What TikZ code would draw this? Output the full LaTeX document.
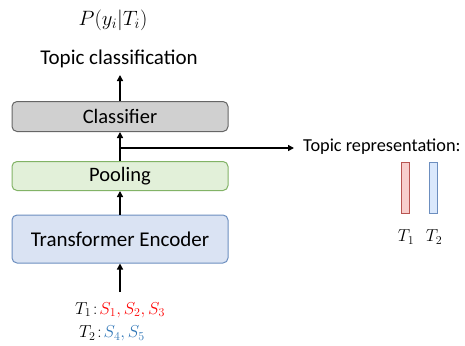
\documentclass[tikz,border=0pt]{standalone}
\usepackage{fontspec}
\setmainfont{Carlito}
\usetikzlibrary{arrows.meta}
\definecolor{clsfill}{HTML}{D0D0D0}
\definecolor{clsdraw}{HTML}{666666}
\definecolor{poolfill}{HTML}{E2F0D9}
\definecolor{pooldraw}{HTML}{82B366}
\definecolor{encfill}{HTML}{DAE3F3}
\definecolor{encdraw}{HTML}{6C8EBF}
\definecolor{redfill}{HTML}{F8CECC}
\definecolor{reddraw}{HTML}{B85450}
\definecolor{bluefill}{HTML}{DAE8FC}
\definecolor{bluedraw}{HTML}{6C8EBF}
\definecolor{sred}{HTML}{FF0000}
\definecolor{sblue}{HTML}{2E75B6}
\tikzset{
  block/.style={draw, rounded corners=5pt, line width=1pt, minimum width=216pt, inner sep=0pt},
  arr/.style={line width=1.8pt, -{Triangle[length=6pt,width=6pt]}},
  bar/.style={draw, line width=0.8pt, minimum width=8pt, minimum height=51pt, inner sep=0pt},
  mathlbl/.style={inner sep=0pt, font=\fontsize{18.5}{21}\selectfont},
}
\begin{document}
\begin{tikzpicture}[x=1pt,y=-1pt]
\useasboundingbox (0,0) rectangle (465,345);
\node[inner sep=0pt] (prob) at (113,20) {\fontsize{22}{25}\selectfont $P(y_i|T_i)$};
\node[inner sep=0pt] (topcls) at (119,59) {\fontsize{21}{24}\selectfont Topic classification};
\node[block, fill=clsfill, draw=clsdraw, minimum height=30pt] (cls) at (120,116.5) {\fontsize{20.5}{23}\selectfont Classifier};
\node[block, fill=poolfill, draw=pooldraw, minimum height=29pt] (pool) at (120,176) {\fontsize{20.5}{23}\selectfont Pooling};
\node[block, fill=encfill, draw=encdraw, minimum height=48pt] (enc) at (120,239) {\fontsize{21}{24}\selectfont Transformer Encoder};
\coordinate (inp) at (120,292);
\node[mathlbl] (tin1) at (120,310) {$T_1\!:\!{\color{sred}S_1,S_2,S_3}$};
\node[mathlbl] (tin2) at (112,333.5) {$T_2\!:\!{\color{sblue}S_4,S_5}$};
\coordinate (br) at (120,148);
\coordinate (brend) at (294,148);
\node[anchor=west, inner sep=0pt] (rep) at (303,147) {\fontsize{18.3}{21}\selectfont Topic representation:};
\node[bar, fill=redfill, draw=reddraw] (b1) at (405,188) {};
\node[bar, fill=bluefill, draw=bluedraw] (b2) at (433.5,188) {};
\node[mathlbl] (t1) at (406,237) {$T_1$};
\node[mathlbl] (t2) at (434,237) {$T_2$};
\draw[arr] (inp) -- (enc.south);
\draw[arr] (enc.north) -- (pool.south);
\draw[arr] (pool.north) -- (cls.south);
\draw[arr] (cls.north) -- (120,75);
\draw[arr] (br) -- (brend);
\end{tikzpicture}
\end{document}
